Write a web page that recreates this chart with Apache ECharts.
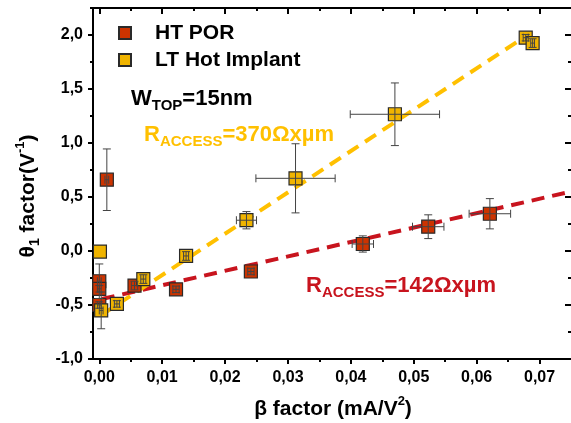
<!DOCTYPE html>
<html>
<head>
<meta charset="utf-8">
<script src="https://cdn.jsdelivr.net/npm/echarts@6/dist/echarts.min.js"></script>
<style>html,body{margin:0;padding:0;background:#fff;}#c{width:571px;height:423px;}</style>
</head>
<body>
<div id="c"></div>
<script>
// ---- data ----
const htX    = [0.0012, 0.0000, 0.0000, 0.0000, 0.0056, 0.0122, 0.0241, 0.0419, 0.0523, 0.0621];
const htY    = [0.66, -0.28, -0.35, -0.50, -0.32, -0.355, -0.19, 0.065, 0.225, 0.345];
const htXErr = [0.0003, 0.0003, 0.0003, 0.0003, 0.0005, 0.0005, 0.0005, 0.0017, 0.0025, 0.0033];
const htYErr = [0.285, 0.16, 0.03, 0.03, 0.04, 0.03, 0.03, 0.075, 0.11, 0.14];

const ltX    = [0.0001, 0.0003, 0.0028, 0.0070, 0.0138, 0.0234, 0.0312, 0.0470, 0.0678, 0.0689];
const ltY    = [-0.005, -0.55, -0.49, -0.26, -0.046, 0.285, 0.673, 1.266, 1.975, 1.925];
const ltXErr = [0, 0.0003, 0.0004, 0.0004, 0.0004, 0.0016, 0.0063, 0.0071, 0.0004, 0.0003];
const ltYErr = [0, 0.17, 0.03, 0.04, 0.04, 0.08, 0.32, 0.29, 0.03, 0.04];

const htFitX = [0.0004, 0.0746];
const htFitY = [-0.445, 0.545];
const ltFitX = [0.0004, 0.0686];
const ltFitY = [-0.59, 2.02];

const xMajor = [0, 0.01, 0.02, 0.03, 0.04, 0.05, 0.06, 0.07];
const xMinor = [0.005, 0.015, 0.025, 0.035, 0.045, 0.055, 0.065];
const yMajor = [-1.0, -0.5, 0.0, 0.5, 1.0, 1.5, 2.0];
const yMinor = [-0.75, -0.25, 0.25, 0.75, 1.25, 1.75, 2.25];

const seriesNames = ['HT POR', 'LT Hot Implant'];

// ---- style ----
const FONT = '"Liberation Sans", Arial, sans-serif';
const RED = '#cc3300', YEL = '#f0b400';
const RED_LINE = '#c8141e', YEL_LINE = '#ffc000';

const chart = echarts.init(document.getElementById('c'), null, {renderer: 'canvas'});

const xFmt = v => v.toFixed(2).replace('.', ',');
const yFmt = v => v.toFixed(1).replace('.', ',');

function xAxisDef(pos, vals, len, inside, labels) {
  return {
    type: 'value', min: -0.001, max: 0.075, position: pos, gridIndex: 0,
    axisLine: {show: true, onZero: false, lineStyle: {color: '#000', width: 2}},
    axisTick: {show: true, customValues: vals, inside: inside, length: len, lineStyle: {color: '#000', width: 2}},
    axisLabel: labels ? {show: true, customValues: vals, formatter: xFmt, margin: 11,
      fontFamily: FONT, fontWeight: 'bold', fontSize: 16, color: '#000'} : {show: false},
    splitLine: {show: false}
  };
}
function yAxisDef(pos, vals, len, inside, labels, showLine) {
  return {
    type: 'value', min: -1.0, max: 2.25, position: pos, gridIndex: 0,
    axisLine: {show: showLine, onZero: false, lineStyle: {color: '#000', width: 2}},
    axisTick: {show: true, customValues: vals, inside: inside, length: len, lineStyle: {color: '#000', width: 2}},
    axisLabel: labels ? {show: true, customValues: vals, formatter: yFmt, margin: 10,
      fontFamily: FONT, fontWeight: 'bold', fontSize: 16, color: '#000'} : {show: false},
    splitLine: {show: false}
  };
}

function errRender(params, api) {
  const x = api.value(0), y = api.value(1), ex = api.value(2), ey = api.value(3);
  const style = {stroke: '#444', lineWidth: 1};
  const cap = 4;
  const ch = [];
  if (ey > 0) {
    const a = api.coord([x, y - ey]), b = api.coord([x, y + ey]);
    ch.push({type: 'line', shape: {x1: a[0], y1: a[1], x2: b[0], y2: b[1]}, style});
    ch.push({type: 'line', shape: {x1: a[0] - cap, y1: a[1], x2: a[0] + cap, y2: a[1]}, style});
    ch.push({type: 'line', shape: {x1: b[0] - cap, y1: b[1], x2: b[0] + cap, y2: b[1]}, style});
  }
  if (ex > 0) {
    const a = api.coord([x - ex, y]), b = api.coord([x + ex, y]);
    ch.push({type: 'line', shape: {x1: a[0], y1: a[1], x2: b[0], y2: b[1]}, style});
    ch.push({type: 'line', shape: {x1: a[0], y1: a[1] - cap, x2: a[0], y2: a[1] + cap}, style});
    ch.push({type: 'line', shape: {x1: b[0], y1: b[1] - cap, x2: b[0], y2: b[1] + cap}, style});
  }
  return {type: 'group', children: ch};
}

const zip = (xs, ys) => xs.map((x, i) => [x, ys[i]]);
const zip4 = (xs, ys, exs, eys) => xs.map((x, i) => [x, ys[i], exs[i], eys[i]]);

const option = {
  animation: false,
  backgroundColor: '#fff',
  grid: {left: 93, top: 8, width: 480.6, height: 351, containLabel: false},
  xAxis: [
    xAxisDef('bottom', xMajor, 5, false, true),
    xAxisDef('bottom', xMinor, 3, false, false),
    xAxisDef('top', xMajor, 6, true, false),
    xAxisDef('top', xMinor, 3, true, false)
  ],
  yAxis: [
    yAxisDef('left', yMajor, 5, false, true, true),
    yAxisDef('left', yMinor, 3, false, false, true),
    yAxisDef('right', yMajor, 6, true, false, false),
    yAxisDef('right', yMinor, 3, true, false, false)
  ],
  legend: {
    orient: 'vertical', left: 118, top: 22, padding: 0, itemWidth: 12, itemHeight: 12, itemGap: 5,
    data: seriesNames,
    textStyle: {fontFamily: FONT, fontWeight: 'bold', fontSize: 21, color: '#000', lineHeight: 22, padding: [0, 0, 0, 19]}
  },
  series: [
    {type: 'line', data: zip(htFitX, htFitY), showSymbol: false, symbol: 'none', silent: true, z: 2,
     lineStyle: {color: RED_LINE, width: 4, type: [13, 8]}},
    {type: 'line', data: zip(ltFitX, ltFitY), showSymbol: false, symbol: 'none', silent: true, z: 2,
     lineStyle: {color: YEL_LINE, width: 4, type: [13, 8]}},
    {name: seriesNames[0], type: 'scatter', symbol: 'rect', symbolSize: 13, z: 3,
     data: zip(htX, htY), itemStyle: {color: RED, borderColor: '#2a2a2a', borderWidth: 1.2, opacity: 1}},
    {name: seriesNames[1], type: 'scatter', symbol: 'rect', symbolSize: 13, z: 3,
     data: zip(ltX, ltY), itemStyle: {color: YEL, borderColor: '#2a2a2a', borderWidth: 1.2, opacity: 1}},
    {type: 'custom', renderItem: errRender, data: zip4(htX, htY, htXErr, htYErr), encode: {x: 0, y: 1}, z: 4, silent: true},
    {type: 'custom', renderItem: errRender, data: zip4(ltX, ltY, ltXErr, ltYErr), encode: {x: 0, y: 1}, z: 4, silent: true}
  ],
  graphic: [
    {type: 'text', left: 131, top: 88, z: 10, style: {
      text: '{a|W}{b|TOP}{a|=15nm}', fill: '#000',
      rich: {a: {fontFamily: FONT, fontWeight: 'bold', fontSize: 22, lineHeight: 28, fill: '#000', color: '#000'},
             b: {fontFamily: FONT, fontWeight: 'bold', fontSize: 15, lineHeight: 14, verticalAlign: 'bottom', fill: '#000', color: '#000'}}}},
    {type: 'text', left: 144, top: 124, z: 10, style: {
      text: '{a|R}{b|ACCESS}{a|=370Ωxµm}', fill: YEL_LINE,
      rich: {a: {fontFamily: FONT, fontWeight: 'bold', fontSize: 22, lineHeight: 28, fill: YEL_LINE, color: YEL_LINE},
             b: {fontFamily: FONT, fontWeight: 'bold', fontSize: 15, lineHeight: 14, verticalAlign: 'bottom', fill: YEL_LINE, color: YEL_LINE}}}},
    {type: 'text', left: 306, top: 275, z: 10, style: {
      text: '{a|R}{b|ACCESS}{a|=142Ωxµm}', fill: RED_LINE,
      rich: {a: {fontFamily: FONT, fontWeight: 'bold', fontSize: 22, lineHeight: 28, fill: RED_LINE, color: RED_LINE},
             b: {fontFamily: FONT, fontWeight: 'bold', fontSize: 15, lineHeight: 14, verticalAlign: 'bottom', fill: RED_LINE, color: RED_LINE}}}},
    {type: 'text', x: 28, y: 196, rotation: Math.PI / 2, z: 10, style: {
      text: '{a|θ}{b|1}{a| factor(V}{c|-1}{a|)}', align: 'center', verticalAlign: 'middle', fill: '#000',
      rich: {a: {fontFamily: FONT, fontWeight: 'bold', fontSize: 21, lineHeight: 28, fill: '#000', color: '#000'},
             b: {fontFamily: FONT, fontWeight: 'bold', fontSize: 14, lineHeight: 14, verticalAlign: 'bottom', fill: '#000', color: '#000'},
             c: {fontFamily: FONT, fontWeight: 'bold', fontSize: 13, lineHeight: 14, verticalAlign: 'top', fill: '#000', color: '#000'}}}},
    {type: 'text', x: 333, y: 409, z: 10, style: {
      text: '{a|β factor (mA/V}{c|2}{a|)}', align: 'center', verticalAlign: 'middle', fill: '#000',
      rich: {a: {fontFamily: FONT, fontWeight: 'bold', fontSize: 21, lineHeight: 28, fill: '#000', color: '#000'},
             c: {fontFamily: FONT, fontWeight: 'bold', fontSize: 13, lineHeight: 14, verticalAlign: 'top', fill: '#000', color: '#000'}}}}
  ]
};
chart.setOption(option);
</script>
</body>
</html>
